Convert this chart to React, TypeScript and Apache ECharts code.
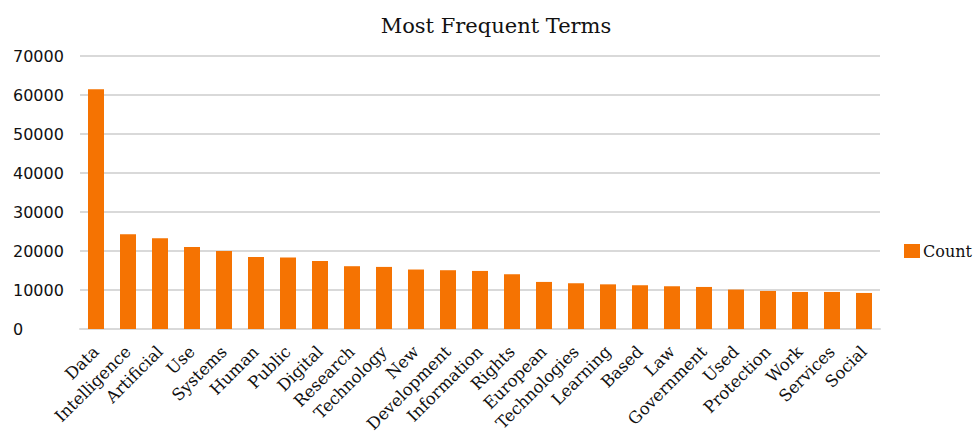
import React, { useEffect, useRef } from "react";
import * as echarts from "echarts";

const categories: string[] = [
  "Data", "Intelligence", "Artificial", "Use", "Systems", "Human", "Public", "Digital",
  "Research", "Technology", "New", "Development", "Information", "Rights", "European",
  "Technologies", "Learning", "Based", "Law", "Government", "Used", "Protection",
  "Work", "Services", "Social",
];
const counts: number[] = [
  61470, 24300, 23290, 21050, 20030, 18490, 18330, 17460,
  16100, 15920, 15250, 15070, 14890, 14040, 12070,
  11730, 11450, 11220, 10960, 10780, 10110, 9760,
  9500, 9500, 9240,
];
const seriesName = "Count";
const chartTitle = "Most Frequent Terms";

export default function App() {
  const ref = useRef<HTMLDivElement>(null);
  useEffect(() => {
    if (!ref.current) return;
    const chart = echarts.init(ref.current, null, { renderer: "svg" });
    chart.setOption({
      animation: false,
      backgroundColor: "#ffffff",
      title: {
        text: chartTitle,
        left: 491,
        textAlign: "center",
        top: 10,
        textStyle: { fontFamily: "DejaVu Serif", fontSize: 21, fontWeight: "normal", color: "#111" },
      },
      legend: {
        data: [seriesName],
        left: 899,
        top: 238,
        itemWidth: 16,
        itemHeight: 14,
        itemGap: 4,
        icon: "rect",
        textStyle: { fontFamily: "DejaVu Serif", fontSize: 16, color: "#111", padding: [0, 0, 0, -2] },
      },
      grid: { left: 80, right: 93, top: 56, bottom: 107, containLabel: false },
      xAxis: {
        type: "category",
        data: categories,
        axisLine: { show: true, lineStyle: { color: "#d9d9d9", width: 2 } },
        axisTick: { show: false },
        axisLabel: {
          rotate: 45,
          interval: 0,
          margin: 20,
          fontFamily: "DejaVu Serif",
          fontSize: 16.5,
          color: "#111",
        },
      },
      yAxis: {
        type: "value",
        min: 0,
        max: 70000,
        interval: 10000,
        axisLine: { show: false },
        axisTick: { show: false },
        splitLine: { lineStyle: { color: "#d9d9d9", width: 2 } },
        axisLabel: {
          align: "left",
          margin: 67,
          fontFamily: "DejaVu Sans",
          fontSize: 16,
          color: "#111",
          formatter: (v: number) => String(v),
        },
      },
      series: [
        {
          name: seriesName,
          type: "bar",
          data: counts,
          barWidth: 16,
          itemStyle: { color: "#f57302" },
        },
      ],
    });
    return () => chart.dispose();
  }, []);
  return (
    <div
      ref={ref}
      style={{ position: "absolute", left: 0, top: 0, width: 973, height: 436 }}
    />
  );
}
